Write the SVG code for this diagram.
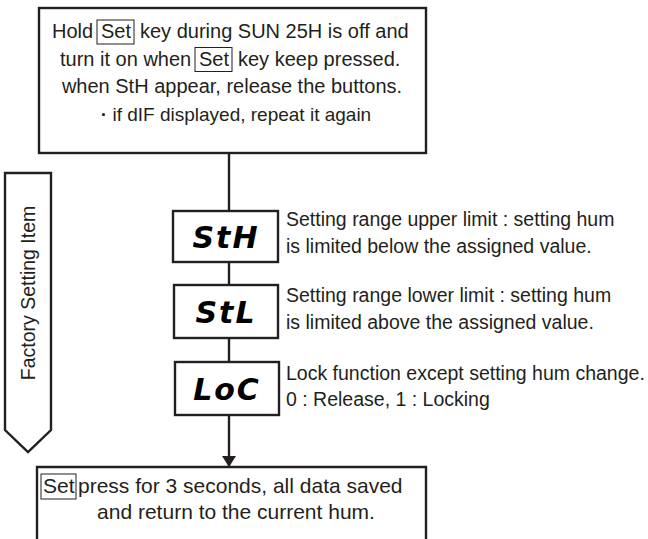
<svg xmlns="http://www.w3.org/2000/svg" width="648" height="539" viewBox="0 0 648 539">
<defs>
<style>
.box{fill:#fff;stroke:#231f20;stroke-width:2.4}
.kbox{fill:none;stroke:#231f20;stroke-width:1}
.t{font-family:"Liberation Sans",Arial,sans-serif;fill:#231f20}
.top{font-size:20px}
.desc{font-size:19.5px}
.seg{font-family:"DejaVu Sans",sans-serif;font-weight:bold;font-style:italic;font-size:30px;fill:#000;letter-spacing:2px}
.ln{stroke:#231f20;stroke-width:2.4;fill:none}
</style>
<marker id="ah" markerWidth="14" markerHeight="14" refX="11" refY="7" orient="auto" markerUnits="userSpaceOnUse"><path d="M0,0 L11,7 L0,14 z" fill="#231f20"/></marker>
</defs>
<rect width="648" height="539" fill="#fff"/>
<g id="connectors">
<line class="ln" x1="229" y1="153" x2="229" y2="211"/>
<line class="ln" x1="229" y1="262" x2="229" y2="285"/>
<line class="ln" x1="229" y1="338" x2="229" y2="362"/>
<line class="ln" x1="229" y1="415" x2="229" y2="467" marker-end="url(#ah)"/>
</g>
<g id="start">
<rect class="box" x="39" y="8" width="387" height="145"/>
<rect class="kbox" x="97" y="20" width="37" height="24"/>
<rect class="kbox" x="195" y="47.5" width="37" height="24"/>
<text class="t top"><tspan x="52" y="38">Hold</tspan><tspan x="101" y="38">Set</tspan><tspan x="140" y="38">key during SUN 25H is off and</tspan></text>
<text class="t top"><tspan x="60" y="65.5">turn it on when</tspan><tspan x="199" y="65.5">Set</tspan><tspan x="238" y="65.5">key keep pressed.</tspan></text>
<text class="t top" x="232" y="93" text-anchor="middle">when StH appear, release the buttons.</text>
<text class="t" font-size="19" x="236" y="120.5" text-anchor="middle"><tspan font-weight="bold">·</tspan> if dIF displayed, repeat it again</text>
</g>
<g id="factory">
<path class="box" d="M5,173 H51 V430 L28,452 L5,430 Z" stroke-width="1.6"/>
<text class="t" font-size="19.5" text-anchor="middle" transform="translate(35,293) rotate(-90)">Factory Setting Item</text>
</g>
<g id="sth">
<rect class="box" x="173" y="211" width="105" height="51"/>
<text class="seg" x="226" y="248" text-anchor="middle">StH</text>
<text class="t desc"><tspan x="286" y="226">Setting range upper limit : setting hum</tspan><tspan x="286" y="253">is limited below the assigned value.</tspan></text>
</g>
<g id="stl">
<rect class="box" x="174" y="285" width="104" height="53"/>
<text class="seg" x="226" y="323" text-anchor="middle">StL</text>
<text class="t desc"><tspan x="286" y="302">Setting range lower limit : setting hum</tspan><tspan x="286" y="329">is limited above the assigned value.</tspan></text>
</g>
<g id="loc">
<rect class="box" x="175" y="362" width="104" height="53"/>
<text class="seg" x="227" y="400" text-anchor="middle">LoC</text>
<text class="t desc"><tspan x="286" y="380">Lock function except setting hum change.</tspan><tspan x="286" y="406">0 : Release, 1 : Locking</tspan></text>
</g>
<g id="end">
<path class="box" d="M37,545 V467 H426 V545"/>
<rect class="kbox" x="41" y="474" width="35" height="25"/>
<text class="t" font-size="21"><tspan x="43" y="493">Set</tspan><tspan x="78" y="493">press for 3 seconds, all data saved</tspan></text>
<text class="t" font-size="21" x="236" y="519" text-anchor="middle">and return to the current hum.</text>
</g>
</svg>
